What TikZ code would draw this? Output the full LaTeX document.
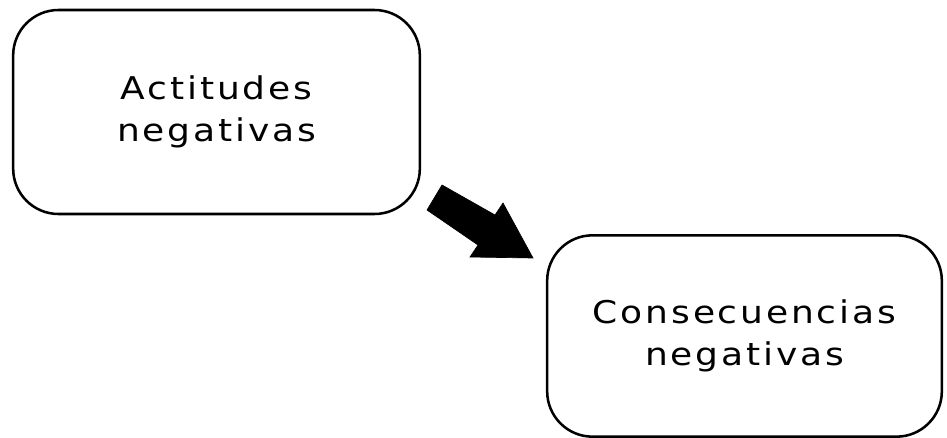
\documentclass[tikz,border=0pt]{standalone}
\usepackage{fontspec}
\setmainfont{DejaVu Sans}[LetterSpace=9, FakeStretch=1.15]
\usepackage{tikz}

\begin{document}
\begin{tikzpicture}
[x=0.75pt,y=-0.75pt]
\tikzset{
	box/.style = {rectangle, draw, line width=1.9pt, rounded corners=34pt, align=center,
		font=\fontsize{23.5}{31.5}\selectfont},
	bigarrow/.style = {fill=black, draw=black, line width=0.5pt, line join=miter}
}
\useasboundingbox (0,0) rectangle (947,438);

\node(actitudes) [box, minimum width=305pt, minimum height=153pt] at (216.5,112) {Actitudes\\negativas};
\node(consecuencias) [box, minimum width=296pt, minimum height=151pt] at (744.5,336) {Consecuencias\\negativas};

% flecha gruesa
\fill[bigarrow] (442,185) -- (495,215) -- (503,203) -- (533,258) -- (470,257) -- (478,245) -- (427,210) -- cycle;

\end{tikzpicture}
\end{document}
